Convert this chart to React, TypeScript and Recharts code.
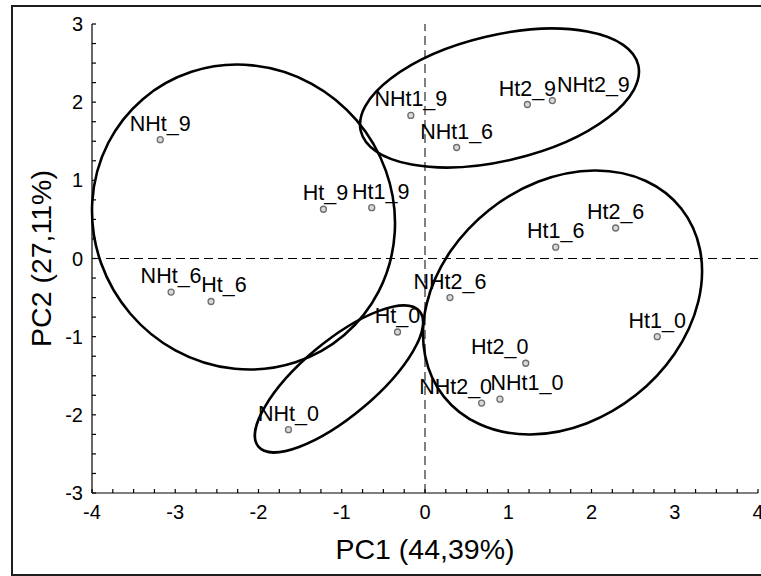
import React from "react"
import { ScatterChart, Scatter, XAxis, YAxis, ReferenceLine, ReferenceArea, Label } from "recharts"

// PCA scores per sample
const samples = ["NHt_9", "Ht_9", "Ht1_9", "NHt1_9", "NHt1_6", "Ht2_9", "NHt2_9", "Ht2_6", "Ht1_6", "NHt_6", "Ht_6", "NHt2_6", "Ht_0", "Ht1_0", "Ht2_0", "NHt2_0", "NHt1_0", "NHt_0"]
const pc1 = [-3.18, -1.22, -0.64, -0.17, 0.38, 1.23, 1.53, 2.29, 1.57, -3.05, -2.57, 0.3, -0.33, 2.79, 1.21, 0.68, 0.9, -1.64]
const pc2 = [1.52, 0.63, 0.65, 1.83, 1.42, 1.97, 2.02, 0.39, 0.145, -0.43, -0.55, -0.5, -0.94, -1.0, -1.34, -1.85, -1.8, -2.19]

// group ellipses: centre, half-extents (axis units) and tilt in degrees
const ellipseCx = [-2.18, 0.895, -1.033, 1.652]
const ellipseCy = [0.53, 2.053, -1.541, -0.563]
const ellipseRx = [1.863, 1.713, 1.264, 1.819]
const ellipseRy = [1.904, 0.803, 0.478, 1.511]
const ellipseTilt = [49.5, -13.4, -40, -38.4]

const xMajor = [-4, -3, -2, -1, 0, 1, 2, 3, 4]
const yMajor = [-3, -2, -1, 0, 1, 2, 3]

// quarter-step minor ticks between the labelled ones
const quarters = (major: number[]) =>
  major.flatMap((v, i) => (i === major.length - 1 ? [v] : [v, v + 0.25, v + 0.5, v + 0.75]))
const xTicks = quarters(xMajor)
const yTicks = quarters(yMajor)

const FONT = "'Liberation Sans', Arial, sans-serif"

// some labels were nudged sideways so they don't collide
const labelShift: Record<string, number> = {
  Ht_9: 2,
  Ht1_9: 9,
  NHt2_9: 41,
  Ht_6: 13,
  Ht2_0: -26,
  NHt2_0: -26,
  NHt1_0: 27,
}

const points = samples.map((name, i) => ({ name, pc1: pc1[i], pc2: pc2[i] }))

const majorOnly = (v: number) => (Number.isInteger(v) ? String(v) : "")

const PointMark = (props: any) => {
  const { cx, cy, payload } = props
  const dx = labelShift[payload.name] ?? 0
  return (
    <g>
      <circle cx={cx} cy={cy} r={3} fill="#d9d9d9" stroke="#6e6e6e" strokeWidth={1.3} />
      <text x={cx + dx} y={cy - 9} textAnchor="middle" fontSize={21.5} fontFamily={FONT} fill="#000">
        {payload.name}
      </text>
    </g>
  )
}

const ellipseShape = (tilt: number) => (props: any) => {
  const { x, y, width, height } = props
  const cx = x + width / 2
  const cy = y + height / 2
  return (
    <ellipse
      cx={cx}
      cy={cy}
      rx={Math.abs(width) / 2}
      ry={Math.abs(height) / 2}
      transform={`rotate(${tilt} ${cx} ${cy})`}
      fill="none"
      stroke="#000"
      strokeWidth={2.6}
    />
  )
}

const tickStyle = { fill: "#000", fontSize: 20, fontFamily: FONT }
const axisStroke = { stroke: "#000", strokeWidth: 1.2 }

export default function App() {
  return (
    <div style={{ position: "absolute", left: 0, top: 0, width: 761, height: 576, overflow: "hidden", background: "#fff" }}>
      <div
        style={{
          position: "absolute",
          left: 11,
          top: 5,
          width: 790,
          height: 571,
          border: "2px solid #1e1e1e",
          boxSizing: "border-box",
        }}
      />
      <div style={{ position: "absolute", left: 0, top: 0 }}>
        <ScatterChart width={761} height={576} margin={{ top: 24, right: 3, bottom: 13, left: 32 }}>
          <XAxis
            type="number"
            dataKey="pc1"
            domain={[-4, 4]}
            ticks={xTicks}
            interval={0}
            allowDataOverflow
            height={70}
            tickSize={-4}
            tickMargin={16}
            tickFormatter={majorOnly}
            tick={tickStyle}
            axisLine={axisStroke}
            tickLine={axisStroke}
          >
            <Label
              content={(p: any) => {
                const vb = p.viewBox
                return (
                  <text x={vb.x + vb.width / 2} y={559} textAnchor="middle" fontSize={28.5} fontFamily={FONT} fill="#000">
                    PC1 (44,39%)
                  </text>
                )
              }}
            />
          </XAxis>
          <XAxis
            xAxisId="top"
            orientation="top"
            type="number"
            domain={[-4, 4]}
            ticks={xTicks}
            interval={0}
            allowDataOverflow
            height={0}
            tickSize={-4}
            tickFormatter={() => ""}
            axisLine={axisStroke}
            tickLine={axisStroke}
          />
          <YAxis
            type="number"
            dataKey="pc2"
            domain={[-3, 3]}
            ticks={yTicks}
            interval={0}
            allowDataOverflow
            width={60}
            tickSize={-4}
            tickMargin={13}
            tickFormatter={majorOnly}
            tick={tickStyle}
            axisLine={axisStroke}
            tickLine={axisStroke}
          >
            <Label
              content={(p: any) => {
                const vb = p.viewBox
                const x = vb.x + 19
                const y = vb.y + vb.height / 2
                return (
                  <text
                    x={x}
                    y={y}
                    transform={`rotate(-90 ${x} ${y})`}
                    textAnchor="middle"
                    fontSize={28.5}
                    fontFamily={FONT}
                    fill="#000"
                  >
                    PC2 (27,11%)
                  </text>
                )
              }}
            />
          </YAxis>
          <YAxis
            yAxisId="right"
            orientation="right"
            type="number"
            domain={[-3, 3]}
            ticks={yTicks}
            interval={0}
            allowDataOverflow
            width={0}
            tickSize={-4}
            tickFormatter={() => ""}
            axisLine={axisStroke}
            tickLine={axisStroke}
          />
          <ReferenceLine x={0} stroke="#000" strokeWidth={1} strokeDasharray="9 5" />
          <ReferenceLine y={0} stroke="#000" strokeWidth={1} strokeDasharray="9 5" />
          {ellipseCx.map((cx, i) => (
            <ReferenceArea
              key={i}
              x1={cx - ellipseRx[i]}
              x2={cx + ellipseRx[i]}
              y1={ellipseCy[i] - ellipseRy[i]}
              y2={ellipseCy[i] + ellipseRy[i]}
              ifOverflow="visible"
              shape={ellipseShape(ellipseTilt[i])}
            />
          ))}
          <Scatter data={points} shape={PointMark} isAnimationActive={false} />
        </ScatterChart>
      </div>
    </div>
  )
}
